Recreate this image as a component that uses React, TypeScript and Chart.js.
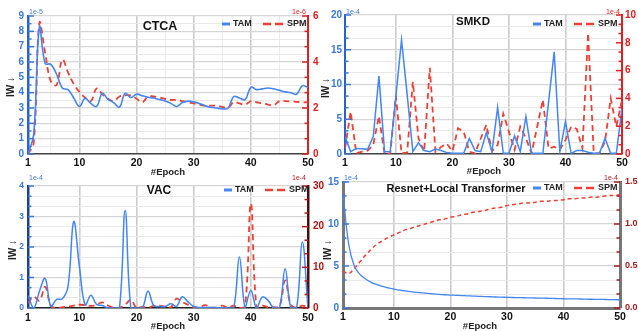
import React, { useEffect, useRef } from 'react';
import { Chart, registerables } from 'chart.js';
Chart.register(...registerables);

const FONT = 'Arial, "Liberation Sans", Helvetica, sans-serif';
const BLUE = 'rgb(66,133,244)';
const RED = 'rgb(236,64,52)';

const EPOCHS = [1, 2, 3, 4, 5, 6, 7, 8, 9, 10, 11, 12, 13, 14, 15, 16, 17, 18, 19, 20, 21, 22, 23, 24, 25,
  26, 27, 28, 29, 30, 31, 32, 33, 34, 35, 36, 37, 38, 39, 40, 41, 42, 43, 44, 45, 46, 47, 48, 49, 50];
const X_TICKS = [1, 10, 20, 30, 40, 50];
const X_MINOR = [5, 15, 25, 35, 45];

// CTCA (TAM ×1e-5, SPM ×1e-6)
const CTCA_TAM = [0, 1.3, 8.3, 5.9, 5.85, 5.2, 4.3, 4.2, 3.65, 3.1, 3.63, 3.3, 3.1, 3.95, 3.57, 3.35, 3.05, 3.95, 3.68, 3.9,
  3.8, 3.7, 3.65, 3.55, 3.45, 3.3, 3.1, 3.35, 3.45, 3.4, 3.3, 3.15, 3.05, 3.0, 2.95, 2.98, 3.75, 3.65, 3.55, 4.35,
  4.2, 4.25, 4.3, 4.25, 4.15, 4.05, 4.0, 3.9, 4.45, 4.35];
const CTCA_SPM = [0, 0.5, 5.7, 4.4, 3.15, 3.0, 4.1, 3.55, 3.05, 2.7, 2.45, 2.3, 2.85, 2.6, 2.4, 2.3, 2.5, 2.55, 2.55, 2.4,
  2.25, 2.5, 2.5, 2.45, 2.4, 2.35, 2.35, 2.3, 2.25, 2.2, 2.15, 2.1, 2.1, 2.1, 2.05, 2.0, 2.25, 2.2, 2.15, 2.3,
  2.25, 2.2, 2.15, 2.12, 2.3, 2.3, 2.28, 2.27, 2.25, 2.25];

// SMKD (×1e-4)
const SMKD_TAM = [2.5, 0.34, 0.8, 0.75, 0.67, 2.5, 11.2, 0.34, 0.34, 8.3, 16.4, 8.5, 0.34, 1.6, 0.5, 0.34, 0.7, 0.5, 0.2, 0.1,
  0.1, 0.1, 2.25, 0.5, 0.34, 3.07, 0.34, 6.7, 0.1, 0.1, 2.6, 0.34, 5.4, 0.1, 0.1, 0.1, 7.4, 14.7, 0.34, 4.65,
  0.1, 0.5, 0.5, 0.25, 0.1, 0.1, 2.25, 0.1, 0.1, 6.6];
const SMKD_SPM = [0.4, 3.05, 0.05, 0.17, 0.24, 0.65, 2.73, 0, 0, 4.2, 0.05, 0.1, 5.2, 1.13, 0.17, 6.2, 0.17, 0.5, 0.75, 0.2,
  1.85, 1.6, 0.17, 0.05, 1.1, 2.1, 0.2, 0.65, 2.9, 1.6, 0.3, 1.97, 1.13, 0.05, 1.97, 3.9, 0.4, 0.53, 0.3, 1.0,
  1.97, 1.8, 0.4, 8.7, 0.05, 0.05, 0.9, 4.0, 1.97, 3.9];

// VAC (×1e-4)
const VAC_TAM = [0.4, 0, 0.55, 0.97, 0.05, 0.28, 0.3, 0.7, 2.83, 1.35, 0.1, 0.42, 0.12, 0.08, 0, 0, 0, 3.2, 0, 0,
  0, 0.55, 0.08, 0.05, 0.05, 0.14, 0.05, 0.37, 0.2, 0.05, 0.02, 0.02, 0.02, 0.01, 0.01, 0, 0, 1.67, 0, 0.58,
  0, 0.36, 0.25, 0, 0, 1.29, 0, 0, 2.16, 0];
const VAC_SPM = [1.2, 2.8, 1.8, 5.2, 0.6, 0, 0.2, 0.3, 0.6, 0.8, 0.7, 0.5, 0.8, 1.4, 0.6, 0.1, 0.1, 0.8, 2.0, 0,
  0.3, 0.1, 0.5, 0.6, 0.3, 0.2, 2.3, 1.5, 0.8, 0.2, 0.1, 0.7, 0.2, 0.1, 0.6, 0.1, 0.6, 0, 0.5, 25.7,
  0, 0.6, 0.2, 0.2, 0.3, 6.8, 0.8, 0.1, 0.6, 0.2];

// Resnet+Local Transformer (×1e-4)
const RLT_TAM = [13.7, 7.6, 5.0, 4.0, 3.45, 3.05, 2.78, 2.56, 2.4, 2.26, 2.13, 2.03, 1.94, 1.86, 1.79, 1.73, 1.67, 1.62, 1.58, 1.54,
  1.51, 1.48, 1.45, 1.42, 1.39, 1.36, 1.34, 1.31, 1.29, 1.27, 1.25, 1.23, 1.22, 1.2, 1.19, 1.17, 1.16, 1.14, 1.12, 1.1,
  1.09, 1.08, 1.07, 1.05, 1.04, 1.03, 1.02, 1.0, 0.99, 0.98];
const RLT_SPM = [0.44, 0.41, 0.47, 0.55, 0.63, 0.7, 0.76, 0.8, 0.84, 0.87, 0.9, 0.93, 0.95, 0.97, 0.99, 1.01, 1.03, 1.05, 1.06, 1.08,
  1.09, 1.11, 1.12, 1.14, 1.15, 1.16, 1.18, 1.19, 1.2, 1.22, 1.23, 1.24, 1.25, 1.25, 1.26, 1.27, 1.27, 1.28, 1.28, 1.29,
  1.3, 1.3, 1.31, 1.31, 1.32, 1.32, 1.33, 1.34, 1.34, 1.35];

type AxisSpec = {
  min: number; max: number; minor: number; label: number; decimals: number;
  labelColor: string; lineColor: string; lineWidth: number; markColor: string;
  fontSize: number; pad: number; exp: string;
};

type PanelSpec = {
  box: [number, number, number, number];
  area: [number, number, number, number];
  title: string; titlePos: [number, number]; titleSize: number;
  legend: [number, number];
  tam: number[]; spm: number[];
  tension: number; tamWidth: number; spmWidth: number; spmDash: number[];
  left: AxisSpec; right: AxisSpec; expY: number;
  xPad: number; xLineColor: string; xLineWidth: number;
  yTitle: [number, number]; xTitle: [number, number];
  minorX: boolean;
};

const PANELS: PanelSpec[] = [
  {
    box: [0, 0, 320, 180], area: [28, 16, 308, 154],
    title: 'CTCA', titlePos: [160, 27], titleSize: 12.5, legend: [222, 24],
    tam: CTCA_TAM, spm: CTCA_SPM, tension: 0.4, tamWidth: 1.6, spmWidth: 1.8, spmDash: [6, 4],
    left: { min: 0, max: 9, minor: 18, label: 1, decimals: 0, labelColor: '#3c78d8', lineColor: '#2a62c9', lineWidth: 2.5, markColor: '#3c78d8', fontSize: 10, pad: 4, exp: '1e-5' },
    right: { min: 0, max: 6, minor: 9, label: 2, decimals: 0, labelColor: '#e02020', lineColor: '#e02020', lineWidth: 2, markColor: '#e02020', fontSize: 10, pad: 5, exp: '1e-6' },
    expY: 12, xPad: 3, xLineColor: '#444', xLineWidth: 1.5,
    yTitle: [11, 87], xTitle: [168, 172], minorX: true,
  },
  {
    box: [318, 0, 320, 180], area: [345, 15, 622, 154],
    title: 'SMKD', titlePos: [473, 22], titleSize: 11.5, legend: [533, 24],
    tam: SMKD_TAM, spm: SMKD_SPM, tension: 0, tamWidth: 1.5, spmWidth: 1.8, spmDash: [6, 4],
    left: { min: 0, max: 20, minor: 12, label: 5, decimals: 0, labelColor: '#3c78d8', lineColor: '#2a62c9', lineWidth: 2, markColor: '#3c78d8', fontSize: 10, pad: 3, exp: '1e-4' },
    right: { min: 0, max: 10, minor: 15, label: 2, decimals: 0, labelColor: '#e02020', lineColor: '#e02020', lineWidth: 2, markColor: '#e02020', fontSize: 10, pad: 3, exp: '1e-4' },
    expY: 12, xPad: 3, xLineColor: '#444', xLineWidth: 1.5,
    yTitle: [326, 88], xTitle: [484, 171], minorX: false,
  },
  {
    box: [0, 170, 330, 161], area: [28, 186, 308, 308],
    title: 'VAC', titlePos: [159, 191], titleSize: 12, legend: [224, 190],
    tam: VAC_TAM, spm: VAC_SPM, tension: 0.4, tamWidth: 1.5, spmWidth: 1.8, spmDash: [6, 4],
    left: { min: 0, max: 4, minor: 12, label: 1, decimals: 0, labelColor: '#3c78d8', lineColor: '#1c3f94', lineWidth: 2.5, markColor: '#3c78d8', fontSize: 8.5, pad: 4, exp: '1e-4' },
    right: { min: 0, max: 30, minor: 9, label: 10, decimals: 0, labelColor: '#b01515', lineColor: '#4a1010', lineWidth: 2.5, markColor: '#c01818', fontSize: 10, pad: 5, exp: '1e-4' },
    expY: 178, xPad: 4, xLineColor: '#222', xLineWidth: 1.5,
    yTitle: [13, 250], xTitle: [168, 326], minorX: false,
  },
  {
    box: [318, 170, 320, 161], area: [343, 182, 620, 308],
    title: 'Resnet+Local Transformer', titlePos: [456, 189], titleSize: 11, legend: [533, 188],
    tam: RLT_TAM, spm: RLT_SPM, tension: 0.4, tamWidth: 1.3, spmWidth: 1.5, spmDash: [4, 3],
    left: { min: 0, max: 15, minor: 9, label: 5, decimals: 0, labelColor: '#3c78d8', lineColor: '#777', lineWidth: 3, markColor: '#3c78d8', fontSize: 10, pad: 4, exp: '1e-4' },
    right: { min: 0, max: 1.5, minor: 9, label: 0.5, decimals: 1, labelColor: '#a51c1c', lineColor: '#777', lineWidth: 3, markColor: '#a51c1c', fontSize: 9, pad: 5, exp: '1e-4' },
    expY: 178, xPad: 3, xLineColor: '#777', xLineWidth: 3,
    yTitle: [328, 250], xTitle: [480, 326], minorX: false,
  },
];

function positions(a: AxisSpec): number[] {
  const out: number[] = [];
  for (let i = 0; i <= a.minor; i++) out.push(a.min + ((a.max - a.min) * i) / a.minor);
  return out;
}
function isMajor(a: AxisSpec, v: number): boolean {
  const q = (v - a.min) / a.label;
  return Math.abs(q - Math.round(q)) < 1e-6;
}

function makeChart(canvas: HTMLCanvasElement, p: PanelSpec) {
  const [bx, by, bw, bh] = p.box;
  const [al, at, ar, ab] = p.area;
  const leftW = al - bx;
  const rightW = bx + bw - ar;
  const topPad = at - by;
  const bottomH = by + bh - ab;
  const xVals = (p.minorX ? [...X_TICKS, ...X_MINOR] : X_TICKS).slice().sort((a, b) => a - b);
  const leftPos = positions(p.left);
  const rightPos = positions(p.right);

  const extras = {
    id: 'extras',
    afterDraw(chart: any) {
      const ctx = chart.ctx as CanvasRenderingContext2D;
      const ca = chart.chartArea;
      const ys = chart.scales.y;
      const y1 = chart.scales.y1;
      ctx.save();
      ctx.lineWidth = 1.5;
      ctx.strokeStyle = p.left.markColor;
      leftPos.forEach((v) => {
        const y = ys.getPixelForValue(v);
        const len = isMajor(p.left, v) ? 6 : 3.5;
        ctx.beginPath(); ctx.moveTo(ca.left, y); ctx.lineTo(ca.left + len, y); ctx.stroke();
      });
      ctx.strokeStyle = p.right.markColor;
      rightPos.forEach((v) => {
        const y = y1.getPixelForValue(v);
        const len = isMajor(p.right, v) ? 6 : 3.5;
        ctx.beginPath(); ctx.moveTo(ca.right, y); ctx.lineTo(ca.right - len, y); ctx.stroke();
      });
      ctx.font = `7px ${FONT}`;
      ctx.textBaseline = 'middle';
      ctx.fillStyle = p.left.labelColor;
      ctx.textAlign = 'left';
      ctx.fillText(p.left.exp, ca.left + 1, p.expY - by);
      ctx.fillStyle = p.right.labelColor;
      ctx.textAlign = 'right';
      ctx.fillText(p.right.exp, ca.right - 2, p.expY - by);
      ctx.fillStyle = '#111';
      ctx.textAlign = 'center';
      ctx.font = `bold ${p.titleSize}px ${FONT}`;
      ctx.fillText(p.title, p.titlePos[0] - bx, p.titlePos[1] - by);
      const lx = p.legend[0] - bx;
      const ly = p.legend[1] - by;
      ctx.lineWidth = 3;
      ctx.strokeStyle = BLUE;
      ctx.beginPath(); ctx.moveTo(lx, ly); ctx.lineTo(lx + 8, ly); ctx.stroke();
      ctx.strokeStyle = RED;
      ctx.lineWidth = 2.5;
      ctx.beginPath(); ctx.moveTo(lx + 41, ly); ctx.lineTo(lx + 49, ly); ctx.stroke();
      ctx.beginPath(); ctx.moveTo(lx + 53, ly); ctx.lineTo(lx + 61, ly); ctx.stroke();
      ctx.fillStyle = '#222';
      ctx.textAlign = 'left';
      ctx.font = `bold 9px ${FONT}`;
      ctx.fillText('TAM', lx + 11, ly);
      ctx.fillText('SPM', lx + 65, ly);
      ctx.font = `bold 9.5px ${FONT}`;
      ctx.textAlign = 'center';
      ctx.fillText('#Epoch', p.xTitle[0] - bx, p.xTitle[1] - by);
      ctx.save();
      ctx.translate(p.yTitle[0] - bx, p.yTitle[1] - by);
      ctx.rotate(-Math.PI / 2);
      ctx.font = `bold 10px ${FONT}`;
      ctx.fillText('IW ↓', 0, 0);
      ctx.restore();
      ctx.restore();
    },
  };

  const yScale = (a: AxisSpec, position: 'left' | 'right', pos: number[], w: number, onChart: boolean) => ({
    type: 'linear',
    position,
    min: a.min,
    max: a.max,
    afterBuildTicks: (s: any) => { s.ticks = pos.map((v) => ({ value: v })); },
    afterFit: (s: any) => { s.width = w; },
    ticks: {
      autoSkip: false,
      padding: a.pad,
      color: a.labelColor,
      font: { family: FONT, size: a.fontSize, weight: 'bold' },
      callback: (v: any) => (isMajor(a, Number(v)) ? Number(v).toFixed(a.decimals) : ''),
    },
    grid: {
      drawOnChartArea: onChart,
      drawTicks: false,
      color: (c: any) => (c.tick && isMajor(a, c.tick.value) ? '#d6d6d6' : '#e9e9e9'),
      lineWidth: (c: any) => (c.tick && isMajor(a, c.tick.value) ? 1.3 : 1),
    },
    border: { display: true, color: a.lineColor, width: a.lineWidth },
  });

  return new Chart(canvas, {
    type: 'line',
    data: {
      datasets: [
        {
          label: 'TAM',
          data: EPOCHS.map((x, i) => ({ x, y: p.tam[i] })),
          yAxisID: 'y',
          borderColor: BLUE,
          borderWidth: p.tamWidth,
          pointRadius: 0,
          tension: p.tension,
          fill: false,
        },
        {
          label: 'SPM',
          data: EPOCHS.map((x, i) => ({ x, y: p.spm[i] })),
          yAxisID: 'y1',
          borderColor: RED,
          borderWidth: p.spmWidth,
          borderDash: p.spmDash,
          pointRadius: 0,
          tension: p.tension,
          fill: false,
        },
      ],
    },
    options: {
      animation: false,
      responsive: false,
      devicePixelRatio: 1,
      events: [],
      layout: { padding: { top: topPad, left: 0, right: 0, bottom: 0 } },
      plugins: { legend: { display: false }, tooltip: { enabled: false }, title: { display: false } },
      scales: {
        x: {
          type: 'linear',
          min: 1,
          max: 50,
          afterBuildTicks: (s: any) => { s.ticks = xVals.map((v) => ({ value: v })); },
          afterFit: (s: any) => { s.height = bottomH; },
          ticks: {
            autoSkip: false,
            maxRotation: 0,
            padding: p.xPad,
            color: '#111',
            font: { family: FONT, size: 10.5, weight: 'bold' },
            callback: (v: any) => (X_TICKS.includes(Number(v)) ? String(v) : ''),
          },
          grid: {
            drawTicks: false,
            color: (c: any) => {
              const v = c.tick ? c.tick.value : 0;
              if (v === 1 || v === 50) return 'rgba(0,0,0,0)';
              return X_TICKS.includes(v) ? '#cccccc' : '#ececec';
            },
            lineWidth: (c: any) => (c.tick && X_TICKS.includes(c.tick.value) ? 1.6 : 1),
          },
          border: { display: true, color: p.xLineColor, width: p.xLineWidth },
        },
        y: yScale(p.left, 'left', leftPos, leftW, true),
        y1: yScale(p.right, 'right', rightPos, rightW, false),
      } as any,
    },
    plugins: [extras],
  } as any);
}

function Panel({ spec }: { spec: PanelSpec }) {
  const ref = useRef<HTMLCanvasElement>(null);
  useEffect(() => {
    if (!ref.current) return;
    const chart = makeChart(ref.current, spec);
    return () => chart.destroy();
  }, [spec]);
  const [bx, by, bw, bh] = spec.box;
  return (
    <canvas
      ref={ref}
      width={bw}
      height={bh}
      style={{ position: 'absolute', left: bx, top: by, width: bw, height: bh }}
    />
  );
}

export default function App() {
  return (
    <div style={{ position: 'fixed', left: 0, top: 0, width: 638, height: 331, background: '#fff', overflow: 'hidden' }}>
      {PANELS.map((p) => (
        <Panel key={p.title} spec={p} />
      ))}
    </div>
  );
}
